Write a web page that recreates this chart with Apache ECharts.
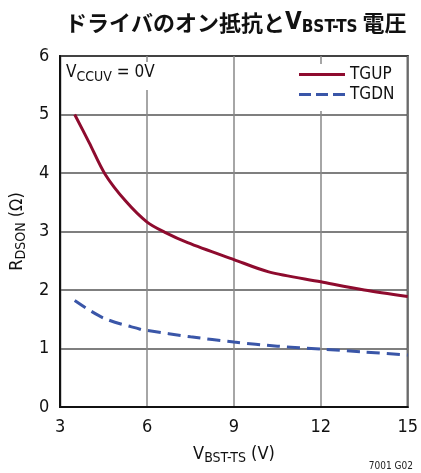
<!DOCTYPE html>
<html><head><meta charset="utf-8">
<script src="https://cdn.jsdelivr.net/npm/echarts@6/dist/echarts.min.js"></script>
<style>html,body{margin:0;padding:0;background:#fff}#c{width:421px;height:473px}</style>
</head><body><div id="c"></div>
<script>
const tgupX = [3.5, 4.0, 4.55, 5.26, 6.0, 6.6, 7.4, 9.0, 10.2, 12.0, 13.5, 15.0];
const tgupY = [5.0, 4.52, 3.98, 3.52, 3.16, 2.99, 2.81, 2.52, 2.31, 2.14, 2.0, 1.89];
const tgdnX = [3.5, 4.5, 5.76, 6.0, 7.5, 9.0, 10.5, 12.0, 13.5, 15.0];
const tgdnY = [1.82, 1.52, 1.33, 1.31, 1.2, 1.11, 1.04, 0.99, 0.94, 0.89];
const xTicks = [3, 6, 9, 12, 15];
const yTicks = [0, 1, 2, 3, 4, 5, 6];

const FONT = "'DejaVu Sans Condensed', 'Liberation Sans', sans-serif";
const chart = echarts.init(document.getElementById('c'), null, {renderer: 'canvas'});
chart.setOption({
  animation: false,
  title: {
    text: 'ドライバのオン抵抗と{v|V}{s|BST-TS} 電圧',
    left: 60, top: 5,
    textStyle: {
      fontFamily: "'Noto Sans CJK JP', sans-serif", fontWeight: 'bold', fontSize: 22, color: '#111',
      rich: {
        v: {fontFamily: FONT, fontWeight: 'bold', fontSize: 24, color: '#111'},
        s: {fontFamily: FONT, fontWeight: 'bold', fontSize: 17, color: '#111', padding: [9, 0, 0, 0]}
      }
    }
  },
  grid: {left: 59, right: 10, top: 56, bottom: 66, show: true, borderColor: '#111', borderWidth: 2, backgroundColor: 'transparent'},
  legend: {
    orient: 'vertical', left: 295, top: 64, itemWidth: 46, itemHeight: 3, itemGap: 3,
    backgroundColor: '#fff', padding: [2, 6, 8, 4],
    textStyle: {fontFamily: FONT, fontSize: 17, color: '#111'},
    data: [
      {name: 'TGUP', icon: 'path://M0,0H46V3H0Z'},
      {name: 'TGDN', icon: 'path://M0,0H12V3H0Z M17,0H29V3H17Z M34,0H46V3H34Z'}
    ]
  },
  xAxis: {
    type: 'value', min: 3, max: 15, interval: 3,
    axisLine: {show: true, lineStyle: {color: '#111', width: 2}},
    axisTick: {show: false},
    axisLabel: {fontFamily: FONT, fontSize: 18, color: '#111', margin: 11,
      formatter: v => xTicks.includes(v) ? String(v) : ''},
    splitLine: {show: true, lineStyle: {color: '#888', width: 1.5}},
    name: 'V{s|BST-TS} (V)', nameLocation: 'middle', nameGap: 36,
    nameTextStyle: {fontFamily: FONT, fontSize: 18, color: '#111',
      rich: {s: {fontFamily: FONT, fontSize: 14, color: '#111', padding: [8, 0, 0, 0]}}}
  },
  yAxis: {
    type: 'value', min: 0, max: 6, interval: 1,
    axisLine: {show: true, lineStyle: {color: '#111', width: 2}},
    axisTick: {show: false},
    axisLabel: {fontFamily: FONT, fontSize: 18, color: '#111', margin: 11,
      formatter: v => yTicks.includes(v) ? String(v) : ''},
    splitLine: {show: true, lineStyle: {color: '#555', width: 1.5}},
    name: 'R{s|DSON} (Ω)', nameLocation: 'middle', nameGap: 27, nameRotate: 90,
    nameTextStyle: {fontFamily: FONT, fontSize: 18, color: '#111',
      rich: {s: {fontFamily: FONT, fontSize: 14, color: '#111', padding: [8, 0, 0, 0]}}}
  },
  graphic: [
    {type: 'text', left: 64, top: 62, z: 100,
      style: {text: 'V{s|CCUV} = 0V', fill: '#111', backgroundColor: '#fff', padding: [0, 4, 6, 2],
        font: "17px 'DejaVu Sans Condensed', 'Liberation Sans', sans-serif",
        rich: {s: {fontFamily: FONT, fontSize: 14, fill: '#111', padding: [8, 0, 0, 0]}}}},
    {type: 'text', right: 8, bottom: 2, z: 100,
      style: {text: '7001 G02', fill: '#222', font: "10px 'DejaVu Sans Condensed', 'Liberation Sans', sans-serif"}}
  ],
  series: [
    {name: 'TGUP', type: 'line', smooth: 0.3, symbol: 'none', z: 3,
      data: tgupX.map((x, i) => [x, tgupY[i]]),
      lineStyle: {color: '#8E0B2E', width: 3}, itemStyle: {color: '#8E0B2E'}},
    {name: 'TGDN', type: 'line', smooth: 0.3, symbol: 'none', z: 3,
      data: tgdnX.map((x, i) => [x, tgdnY[i]]),
      lineStyle: {color: '#3A56A8', width: 3, type: [13, 7]}, itemStyle: {color: '#3A56A8'}}
  ]
});
</script></body></html>
